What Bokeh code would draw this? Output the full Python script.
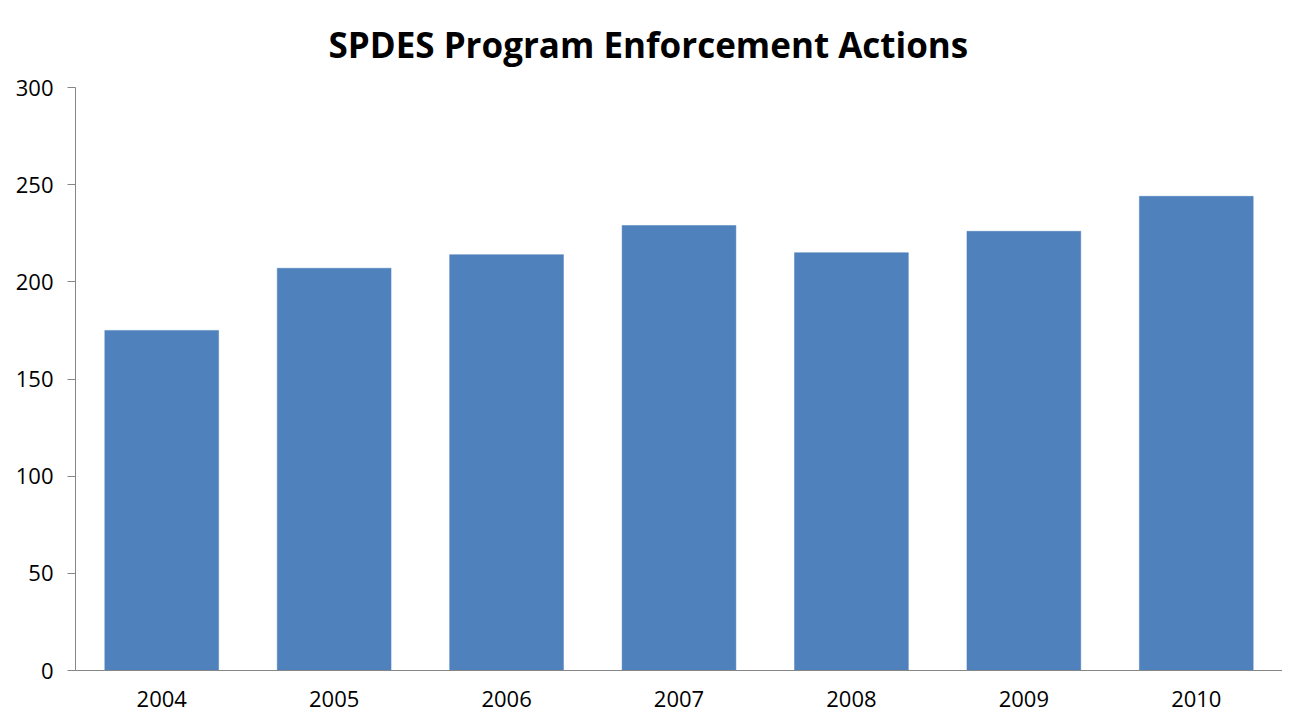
from bokeh.plotting import figure
from bokeh.models import Range1d, ColumnDataSource
from bokeh.embed import file_html
from bokeh.resources import INLINE

years = ["2004", "2005", "2006", "2007", "2008", "2009", "2010"]
actions = [175, 207, 214, 229, 215, 226, 244]
y_ticks = [0, 50, 100, 150, 200, 250, 300]
title_text = "SPDES Program Enforcement Actions"

FONT = "Open Sans"
AXIS_COLOR = "#868686"

src = ColumnDataSource(data=dict(year=years, actions=actions))

p = figure(
    x_range=years,
    y_range=Range1d(0, 300),
    width=1282,
    height=716,
    output_backend="svg",
    toolbar_location=None,
    title=title_text,
    min_border_left=75,
    min_border_right=0,
    min_border_bottom=46,
    min_border_top=87,
)
p.x_range.range_padding = 0

p.vbar(x="year", top="actions", width=0.66, source=src,
       fill_color="#4F81BD", line_color="#4F81BD", line_width=0.5)

p.title.text_font = FONT
p.title.text_font_size = "35px"
p.title.text_font_style = "bold"
p.title.text_color = "#000000"
p.title.align = "left"
p.title.offset = 253
p.title.vertical_align = "top"
p.title.standoff = 36

p.xgrid.visible = False
p.ygrid.visible = False
p.outline_line_color = None

p.yaxis.ticker = y_ticks
p.yaxis.axis_line_color = AXIS_COLOR
p.yaxis.major_tick_line_color = AXIS_COLOR
p.yaxis.major_tick_out = 8
p.yaxis.major_tick_in = 0
p.yaxis.minor_tick_line_color = None
p.yaxis.major_label_text_font = FONT
p.yaxis.major_label_text_font_size = "22px"
p.yaxis.major_label_text_color = "#000000"
p.yaxis.major_label_standoff = 14

p.xaxis.axis_line_color = AXIS_COLOR
p.xaxis.major_tick_line_color = None
p.xaxis.minor_tick_line_color = None
p.xaxis.major_tick_out = 0
p.xaxis.major_label_text_font = FONT
p.xaxis.major_label_text_font_size = "22px"
p.xaxis.major_label_text_color = "#000000"
p.xaxis.major_label_standoff = 20

open("out.html", "w").write(file_html(p, INLINE))
